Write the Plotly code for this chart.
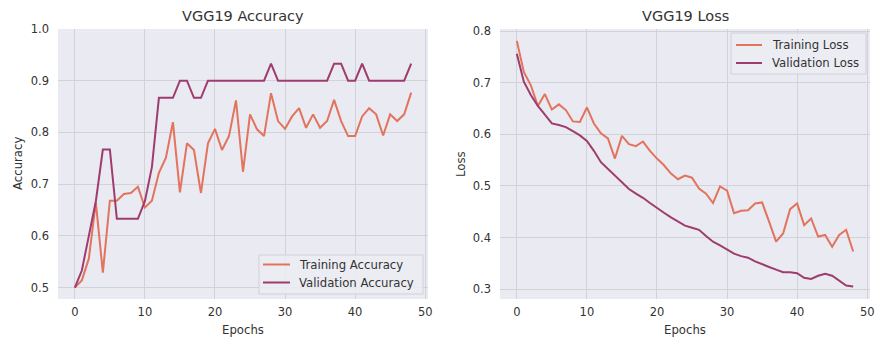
import plotly.graph_objects as go

epochs = list(range(49))

train_acc = [0.500, 0.514, 0.556, 0.665, 0.529, 0.668, 0.668, 0.681, 0.683, 0.695,
             0.655, 0.668, 0.722, 0.751, 0.820, 0.684, 0.779, 0.766, 0.683, 0.779,
             0.807, 0.766, 0.793, 0.862, 0.724, 0.835, 0.806, 0.793, 0.876, 0.822,
             0.807, 0.831, 0.847, 0.809, 0.835, 0.809, 0.822, 0.863, 0.822, 0.793,
             0.793, 0.831, 0.847, 0.835, 0.794, 0.835, 0.822, 0.835, 0.877]
val_acc = [0.500, 0.533, 0.600, 0.667, 0.767, 0.767, 0.633, 0.633, 0.633, 0.633,
           0.667, 0.733, 0.867, 0.867, 0.867, 0.900, 0.900, 0.867, 0.867, 0.900,
           0.900, 0.900, 0.900, 0.900, 0.900, 0.900, 0.900, 0.900, 0.933, 0.900,
           0.900, 0.900, 0.900, 0.900, 0.900, 0.900, 0.900, 0.933, 0.933, 0.900,
           0.900, 0.933, 0.900, 0.900, 0.900, 0.900, 0.900, 0.900, 0.933]
train_loss = [0.781, 0.721, 0.695, 0.655, 0.678, 0.648, 0.658, 0.647, 0.625, 0.624,
              0.652, 0.621, 0.602, 0.592, 0.553, 0.597, 0.581, 0.577, 0.586, 0.568,
              0.553, 0.540, 0.524, 0.513, 0.520, 0.516, 0.495, 0.485, 0.467, 0.499,
              0.491, 0.447, 0.452, 0.453, 0.466, 0.468, 0.431, 0.392, 0.408, 0.455,
              0.466, 0.424, 0.437, 0.402, 0.405, 0.382, 0.405, 0.415, 0.373]
val_loss = [0.756, 0.702, 0.676, 0.655, 0.638, 0.621, 0.618, 0.614, 0.606, 0.598,
            0.587, 0.568, 0.546, 0.533, 0.519, 0.506, 0.494, 0.485, 0.477, 0.467,
            0.457, 0.448, 0.439, 0.431, 0.423, 0.419, 0.415, 0.403, 0.392, 0.385,
            0.377, 0.369, 0.364, 0.361, 0.354, 0.348, 0.343, 0.338, 0.333, 0.333,
            0.331, 0.322, 0.320, 0.326, 0.330, 0.326, 0.316, 0.307, 0.305]

x_ticks = [0, 10, 20, 30, 40, 50]
acc_ticks = [0.5, 0.6, 0.7, 0.8, 0.9, 1.0]
loss_ticks = [0.3, 0.4, 0.5, 0.6, 0.7, 0.8]

ORANGE = "#e2735d"
PURPLE = "#9e3c6f"
BG = "#eaeaf2"
GRID = "#d2d2d9"
TXT = "#333333"
FONT = "DejaVu Sans"

W, H = 875, 339


def px(x):
    return x / W


def py(y):
    return (H - y) / H


fig = go.Figure()
fig.add_trace(go.Scatter(x=epochs, y=train_acc, mode="lines", name="Training Accuracy",
                         line=dict(color=ORANGE, width=2), xaxis="x", yaxis="y"))
fig.add_trace(go.Scatter(x=epochs, y=val_acc, mode="lines", name="Validation Accuracy",
                         line=dict(color=PURPLE, width=2), xaxis="x", yaxis="y"))
fig.add_trace(go.Scatter(x=epochs, y=train_loss, mode="lines", name="Training Loss",
                         line=dict(color=ORANGE, width=2), xaxis="x2", yaxis="y2"))
fig.add_trace(go.Scatter(x=epochs, y=val_loss, mode="lines", name="Validation Loss",
                         line=dict(color=PURPLE, width=2), xaxis="x2", yaxis="y2"))

SH = 4  # small left shift of the right panel so its last tick label stays in view
dom_y = [py(299), py(29)]
dom_x1 = [px(58), px(428)]
dom_x2 = [px(504 - SH), px(874 - SH)]

axis_common = dict(showgrid=True, gridcolor=GRID, gridwidth=1, zeroline=False,
                   showline=False, ticks="", tickfont=dict(family=FONT, size=11.5, color=TXT),
                   automargin=False, ticklabeloverflow="allow")

fig.update_layout(
    width=W, height=H,
    margin=dict(l=0, r=0, t=0, b=0),
    paper_bgcolor="white",
    plot_bgcolor=BG,
    font=dict(family=FONT, color=TXT),
    showlegend=False,
    xaxis=dict(domain=dom_x1, anchor="y", range=[-2.4, 50.4], tickvals=x_ticks,
               ticklabelstandoff=4, **axis_common),
    yaxis=dict(domain=dom_y, anchor="x", range=[0.478, 1.0], tickvals=acc_ticks,
               tickformat=".1f", ticklabelstandoff=8, **axis_common),
    xaxis2=dict(domain=dom_x2, anchor="y2", range=[-2.4, 50.4], tickvals=x_ticks,
                ticklabelstandoff=4, **axis_common),
    yaxis2=dict(domain=dom_y, anchor="x2", range=[0.281, 0.804], tickvals=loss_ticks,
                tickformat=".1f", ticklabelstandoff=8, **axis_common),
)

annots = [
    dict(text="VGG19 Accuracy", x=243, y=16, size=14.5, angle=0),
    dict(text="VGG19 Loss", x=689 - SH, y=16, size=14.5, angle=0),
    dict(text="Epochs", x=243, y=330, size=11.7, angle=0),
    dict(text="Epochs", x=689 - SH, y=330, size=11.7, angle=0),
    dict(text="Accuracy", x=18, y=164, size=11.7, angle=-90),
    dict(text="Loss", x=465 - SH, y=164, size=11.7, angle=-90),
]
for a in annots:
    fig.add_annotation(text=a["text"], x=px(a["x"]), y=py(a["y"]), xref="paper", yref="paper",
                       xanchor="center", yanchor="middle", showarrow=False, textangle=a["angle"],
                       font=dict(family=FONT, size=a["size"], color=TXT))

# Legends (drawn as layout boxes, matching the matplotlib-style legend frames)
legends = [
    dict(box=(259, 255, 423, 294), line_x=(263, 290), text_x=297,
         items=[("Training Accuracy", ORANGE, 264.5), ("Validation Accuracy", PURPLE, 282.5)]),
    dict(box=(735 - SH, 33, 870 - SH, 74), line_x=(740 - SH, 766 - SH), text_x=774 - SH,
         items=[("Training Loss", ORANGE, 45), ("Validation Loss", PURPLE, 63)]),
]
for lg in legends:
    x0, y0, x1, y1 = lg["box"]
    fig.add_shape(type="rect", xref="paper", yref="paper", x0=px(x0), y0=py(y1), x1=px(x1), y1=py(y0),
                  fillcolor="rgba(236,236,243,0.85)", line=dict(color="#d0d0d7", width=1), layer="above")
    for name, color, yy in lg["items"]:
        fig.add_shape(type="line", xref="paper", yref="paper", x0=px(lg["line_x"][0]), x1=px(lg["line_x"][1]),
                      y0=py(yy), y1=py(yy), line=dict(color=color, width=2), layer="above")
        fig.add_annotation(text=name, x=px(lg["text_x"]), y=py(yy), xref="paper", yref="paper",
                           xanchor="left", yanchor="middle", showarrow=False,
                           font=dict(family=FONT, size=11.7, color=TXT))

fig.write_html("out.html", config={"displayModeBar": False},
               post_script="document.body.style.margin='0';document.body.style.overflow='hidden';")
